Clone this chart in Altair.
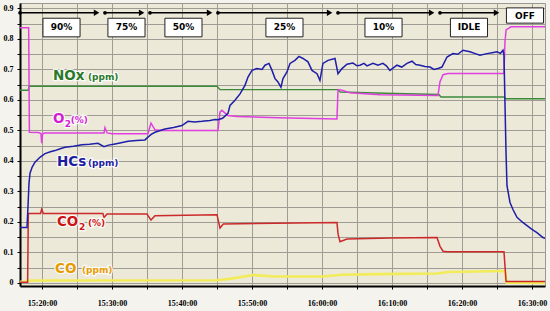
import altair as alt
import pandas as pd

# ---------------- data (time = minutes after 15:00) ----------------
hcs_t = [16.86, 17.86, 18.00, 18.14, 18.29, 18.6, 19.00, 19.71, 20.43, 21.2, 21.86, 22.6, 23.29, 24.5,
         25.71, 26.8, 28.00, 28.86, 29.5, 30.43, 31.3, 32.29, 33.5, 34.71, 35.14, 35.6, 36.14, 37.57,
         38.8, 40.00, 40.86, 41.8, 42.86, 44.00, 44.71, 45.14, 45.8, 46.57, 46.86, 47.57, 48.29, 49.00,
         49.43, 50.00, 50.71, 51.43, 51.86, 52.43, 52.86, 53.29, 53.71, 54.14, 54.43, 55.00, 55.43,
         56.14, 56.71, 57.29, 58.00, 58.57, 59.29, 59.71, 60.14, 60.86, 61.86, 62.29, 62.86, 63.57,
         64.43, 65.0, 65.43, 66.0, 66.43, 67.29, 68.00, 68.7, 69.2, 69.71, 70.71, 71.4, 72.14, 72.86,
         73.4, 74.00, 74.7, 75.43, 76.0, 76.57, 77.14, 77.86, 78.71, 79.4, 80.14, 81.14, 81.9, 82.57,
         83.57, 84.3, 85.00, 85.5, 85.86, 86.00, 86.14, 86.29, 86.43, 86.86, 87.3, 87.86, 88.6, 89.29,
         90.0, 90.71, 91.57, 91.86]
hcs_v = [0.182, 0.182, 0.25, 0.325, 0.36, 0.38, 0.396, 0.412, 0.424, 0.43, 0.434, 0.44, 0.445, 0.448,
         0.453, 0.455, 0.458, 0.447, 0.452, 0.456, 0.46, 0.465, 0.467, 0.469, 0.478, 0.487, 0.494, 0.505,
         0.51, 0.516, 0.53, 0.528, 0.53, 0.533, 0.536, 0.535, 0.54, 0.556, 0.582, 0.599, 0.62, 0.648,
         0.675, 0.697, 0.703, 0.70, 0.714, 0.72, 0.697, 0.67, 0.659, 0.642, 0.67, 0.692, 0.72,
         0.73, 0.743, 0.736, 0.725, 0.697, 0.686, 0.664, 0.72, 0.73, 0.736, 0.686, 0.703, 0.717,
         0.721, 0.712, 0.714, 0.72, 0.712, 0.72, 0.714, 0.72, 0.712, 0.697, 0.714, 0.708, 0.72, 0.727,
         0.716, 0.714, 0.71, 0.708, 0.70, 0.703, 0.708, 0.741, 0.752, 0.75, 0.763, 0.758, 0.752, 0.747,
         0.752, 0.755, 0.758, 0.753, 0.763, 0.747, 0.593, 0.429, 0.319, 0.264, 0.24, 0.215, 0.20, 0.188,
         0.176, 0.165, 0.149, 0.146]

o2_t = [16.86, 18.10, 18.20, 19.5, 19.85, 19.96, 20.1, 20.43, 24.0, 28.86, 29.00, 29.3, 30.0, 35.14,
        35.57, 36.14, 37.0, 44.9, 45.14, 45.43, 45.71, 46.57, 47.86, 53.71, 62.14, 62.29, 62.86, 64.00,
        68.29, 76.57, 76.86, 77.3, 78.0, 86.0, 86.14, 86.3, 87.0, 91.86]
o2_v = [0.837, 0.837, 0.494, 0.493, 0.49, 0.458, 0.49, 0.492, 0.492, 0.492, 0.509, 0.492, 0.489, 0.489,
        0.524, 0.502, 0.50, 0.50, 0.50, 0.56, 0.566, 0.549, 0.546, 0.542, 0.538, 0.634, 0.632, 0.624,
        0.617, 0.615, 0.66, 0.683, 0.687, 0.687, 0.79, 0.83, 0.84, 0.84]

nox_t = [16.86, 18.05, 18.15, 45.0, 45.43, 62.29, 62.6, 69.0, 76.7, 77.0, 86.0, 86.3, 91.86]
nox_v = [0.632, 0.632, 0.645, 0.645, 0.634, 0.634, 0.626, 0.622, 0.618, 0.61, 0.61, 0.604, 0.604]

co2_t = [16.86, 17.95, 18.05, 19.8, 19.96, 20.2, 28.7, 28.86, 29.3, 35.0, 35.57, 36.14, 45.0, 45.43,
         45.9, 53.29, 62.14, 62.3, 62.57, 63.57, 69.71, 76.43, 76.86, 77.3, 77.86, 86.0, 86.3, 91.86]
co2_v = [0.002, 0.002, 0.228, 0.228, 0.242, 0.228, 0.228, 0.215, 0.226, 0.226, 0.206, 0.22, 0.224, 0.18,
         0.193, 0.196, 0.198, 0.16, 0.135, 0.144, 0.147, 0.149, 0.12, 0.104, 0.102, 0.102, 0.005, 0.005]

co_t = [16.86, 18.0, 18.2, 45.0, 47.3, 50.1, 53.3, 60.0, 62.9, 68.0, 76.5, 78.0, 86.1, 86.4, 91.86]
co_v = [0.004, 0.004, 0.008, 0.009, 0.015, 0.026, 0.021, 0.021, 0.027, 0.029, 0.031, 0.036, 0.039, 0.001, 0.0]

phase_names = ["90%", "75%", "50%", "25%", "10%", "IDLE", "OFF"]
phase_start = [16.86, 29.0, 35.43, 45.14, 62.29, 76.86, 86.14]
phase_end = [29.0, 35.43, 45.14, 62.29, 76.86, 86.14, 91.86]
phase_label_t = [22.79, 32.07, 40.21, 54.64, 68.79, 81.0, 89.0]

# ---------------- scales / axes ----------------
x_scale = alt.Scale(domain=[16.86, 91.86], nice=False, zero=False)
y_scale = alt.Scale(domain=[-0.01, 0.918], nice=False, zero=False)

x_axis = alt.Axis(
    values=list(range(20, 95, 5)),
    labelExpr="datum.value % 10 == 0 ? (floor(datum.value/60)+15) + ':' + pad(toString(datum.value % 60), 2, '0', 'left') + ':00' : ''",
    grid=True, gridColor="#9E9C94", gridWidth=1,
    domainColor="black", domainWidth=2, tickColor="black", tickSize=3,
    labelFont="Liberation Serif", labelFontWeight="bold", labelFontSize=8, labelColor="black",
    labelPadding=10, labelOverlap=False, title=None)
y_axis = alt.Axis(
    values=[round(i * 0.05, 2) for i in range(19)],
    labelExpr="round(datum.value*100) % 10 == 0 ? (datum.value == 0 ? '0' : format(datum.value, '.1f')) : ''",
    grid=True, gridColor="#9E9C94", gridWidth=1,
    domainColor="black", domainWidth=2, tickColor="black", tickSize=3,
    labelFont="Liberation Serif", labelFontWeight="bold", labelFontSize=8, labelColor="black",
    labelPadding=4, labelOverlap=False, title=None)


def X(field):
    return alt.X(field, type="quantitative", scale=x_scale, axis=x_axis)


def Y(field):
    return alt.Y(field, type="quantitative", scale=y_scale, axis=y_axis)


layers = []

# ---------------- series lines ----------------
series = [
    ("CO", co_t, co_v, "#F2EC58", 2.6),
    ("CO2", co2_t, co2_v, "#CC2A2A", 1.5),
    ("NOx", nox_t, nox_v, "#3A8A3A", 1.4),
    ("O2", o2_t, o2_v, "#E040E0", 1.5),
    ("HCs", hcs_t, hcs_v, "#1E1EA8", 1.5),
]
for name, ts, vs, col, sw in series:
    df = pd.DataFrame({"t": ts, "v": vs})
    layers.append(alt.Chart(df).mark_line(color=col, strokeWidth=sw, clip=True).encode(x=X("t"), y=Y("v")))

# ---------------- phase arrows & boxes ----------------
phases = pd.DataFrame({"phase": phase_names, "start": phase_start, "end": phase_end, "lab": phase_label_t})
arrows = alt.Chart(phases).transform_filter("datum.phase != 'OFF'").transform_calculate(
    tip="datum.end - 1.2", yy="0.886")
layers.append(arrows.mark_rule(color="black", strokeWidth=1.6).encode(x=X("start"), x2="tip:Q", y=Y("yy")))
layers.append(arrows.mark_point(shape="triangle-right", filled=True, size=40, color="black", opacity=1)
              .encode(x=X("tip"), y=Y("yy")))
layers.append(arrows.mark_point(shape="circle", filled=True, size=14, color="black", opacity=1)
              .encode(x=X("start"), y=Y("yy")))

boxes = alt.Chart(phases).transform_calculate(
    bx1="datum.lab - 2.65", bx2="datum.lab + 2.65",
    by1="datum.phase == 'OFF' ? 0.852 : 0.807",
    by2="datum.phase == 'OFF' ? 0.902 : 0.868",
    ty="datum.phase == 'OFF' ? 0.877 : 0.838")
layers.append(boxes.mark_rect(fill="white", stroke="#222222", strokeWidth=1)
              .encode(x=X("bx1"), x2="bx2:Q", y=Y("by1"), y2="by2:Q"))
layers.append(boxes.mark_text(font="DejaVu Sans", fontWeight="bold", fontSize=9, color="black",
                              align="center", baseline="middle")
              .encode(x=X("lab"), y=Y("ty"), text="phase:N"))

# ---------------- series labels ----------------
labels = [
    ("NOx", 21.57, 0.666, 13.5, "#2A7A2A"), ("(ppm)", 26.57, 0.666, 9, "#2A7A2A"),
    ("O", 21.57, 0.525, 13.5, "#D41ED4"), ("2", 23.25, 0.511, 9, "#D41ED4"), ("(%)", 24.1, 0.525, 9, "#D41ED4"),
    ("HCs", 22.14, 0.384, 13.5, "#1C1CA0"), ("(ppm)", 26.57, 0.384, 9, "#1C1CA0"),
    ("CO", 22.14, 0.187, 13.5, "#CC1414"), ("2", 25.3, 0.173, 9, "#CC1414"), ("(%)", 26.57, 0.187, 9, "#CC1414"),
    ("CO", 21.86, 0.033, 13.5, "#E89B00"), ("(ppm)", 25.71, 0.033, 9, "#E89B00"),
]
for txt, t, v, size, col in labels:
    d = alt.Chart(pd.DataFrame({"t": [t], "v": [v], "s": [txt]}))
    layers.append(d.mark_text(font="DejaVu Sans", fontWeight="bold", fontSize=size, align="left",
                              baseline="alphabetic", color="white", stroke="white", strokeWidth=2.5,
                              strokeOpacity=0.85)
                  .encode(x=X("t"), y=Y("v"), text="s:N"))
    layers.append(d.mark_text(font="DejaVu Sans", fontWeight="bold", fontSize=size, align="left",
                              baseline="alphabetic", color=col)
                  .encode(x=X("t"), y=Y("v"), text="s:N"))

chart = alt.layer(*layers).properties(
    width=525, height=283,
    padding={"left": 20, "top": 3, "right": 5, "bottom": 25},
    autosize=alt.AutoSizeParams(type="none"),
    background="#F4F3EE",
).configure_view(fill="#ECE9D8", stroke="#9A9890", strokeWidth=1)

chart.save("out.html", embed_options={"renderer": "svg", "actions": False})
